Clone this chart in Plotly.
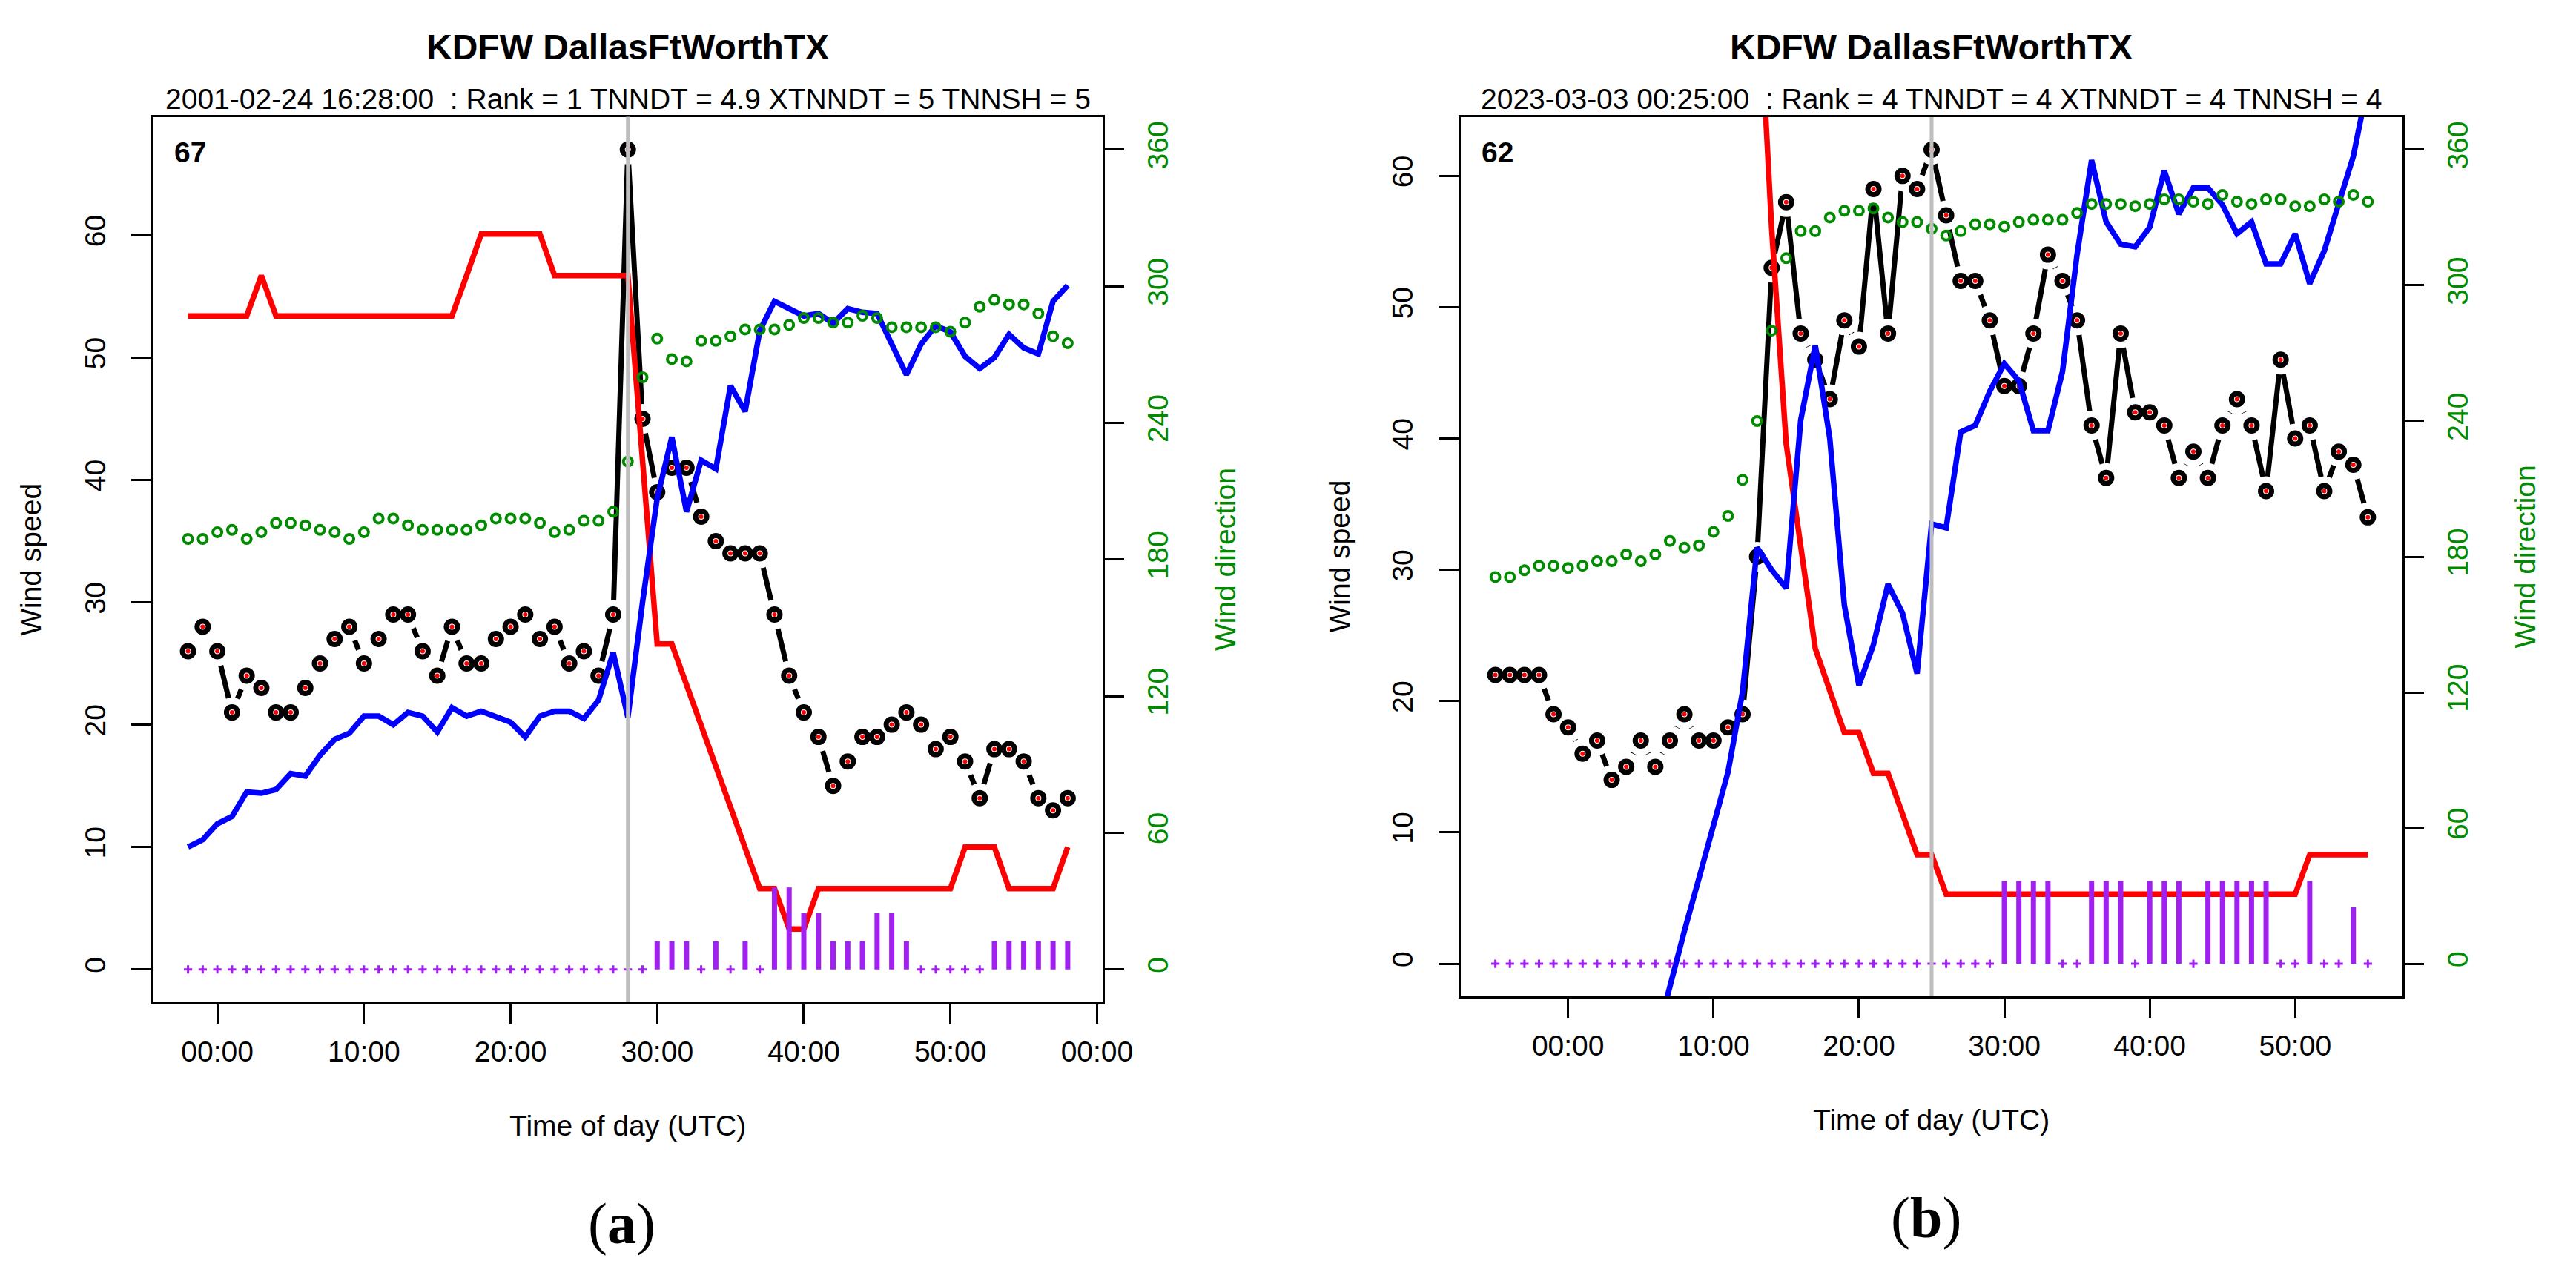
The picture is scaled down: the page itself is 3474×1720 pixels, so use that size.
import plotly.graph_objects as go
from plotly.subplots import make_subplots

# ---------------- data ----------------
# panel (a): KDFW 2001-02-24, one value per minute (minutes of the hour)
a_minutes = list(range(-2, 59))
a_speed = [26, 28, 26, 21, 24, 23, 21, 21, 23, 25, 27, 28, 25, 27, 29, 29, 26, 24, 28, 25,
           25, 27, 28, 29, 27, 28, 25, 26, 24, 29, 67, 45, 39, 41, 41, 37, 35, 34, 34, 34,
           29, 24, 21, 19, 15, 17, 19, 19, 20, 21, 20, 18, 19, 17, 14, 18, 18, 17, 14, 13, 14]
a_red = [53.4, 53.4, 53.4, 53.4, 53.4, 56.7, 53.4, 53.4, 53.4, 53.4,
         53.4, 53.4, 53.4, 53.4, 53.4, 53.4, 53.4, 53.4, 53.4, 56.7,
         60.1, 60.1, 60.1, 60.1, 60.1, 56.7, 56.7, 56.7, 56.7, 56.7,
         56.7, 41.6, 26.6, 26.6, 23.3, 20.0, 16.6, 13.3, 10.0, 6.6,
         6.6, 3.3, 3.3, 6.6, 6.6, 6.6, 6.6, 6.6, 6.6, 6.6,
         6.6, 6.6, 6.6, 10.0, 10.0, 10.0, 6.6, 6.6, 6.6, 6.6, 10.0]
a_blue = [10.0, 10.6, 11.9, 12.5, 14.5, 14.4, 14.7, 16.0, 15.8, 17.5,
          18.8, 19.3, 20.7, 20.7, 20.0, 21.0, 20.7, 19.4, 21.4, 20.7,
          21.1, 20.7, 20.2, 19.0, 20.7, 21.1, 21.1, 20.5, 22.0, 25.9,
          20.6, 30.0, 38.5, 43.5, 37.4, 41.6, 40.9, 47.7, 45.6, 52.2,
          54.6, 54.0, 53.4, 53.6, 52.8, 54.0, 53.7, 53.6, 51.2, 48.6,
          51.1, 52.6, 52.1, 50.1, 49.1, 50.0, 51.9, 50.8, 50.3, 54.6, 55.9]
a_dir = [189, 189, 192, 193, 189, 192, 196, 196, 195, 193,
         192, 189, 192, 198, 198, 195, 193, 193, 193, 193,
         195, 198, 198, 198, 196, 192, 193, 197, 197, 201,
         223, 260, 277, 268, 267, 276, 276, 278, 281, 281,
         281, 283, 286, 286, 284, 284, 287, 286, 282, 282,
         282, 282, 280, 284, 291, 294, 292, 292, 288, 278, 275]
a_purple = [0, 0, 0, 0, 0, 0, 0, 0, 0, 0, 0, 0, 0, 0, 0, 0, 0, 0, 0, 0,
            0, 0, 0, 0, 0, 0, 0, 0, 0, 0, 0, 0,
            2.3, 2.3, 2.3, 0, 2.3, 0, 2.3, 0, 6.7, 6.7, 4.6, 4.6, 2.3, 2.3, 2.3,
            4.6, 4.6, 2.3, 0, 0, 0, 0, 0, 2.3, 2.3, 2.3, 2.3, 2.3, 2.3]
a_event = 28
a_title = "KDFW DallasFtWorthTX"
a_subtitle = "2001-02-24 16:28:00\u00a0 : Rank = 1 TNNDT = 4.9 XTNNDT = 5 TNNSH = 5"
a_tickvals = [0, 10, 20, 30, 40, 50, 60]
a_ticktext = ["00:00", "10:00", "20:00", "30:00", "40:00", "50:00", "00:00"]

# panel (b): KDFW 2023-03-03
b_minutes = list(range(-5, 56))
b_speed = [22, 22, 22, 22, 19, 18, 16, 17, 14, 15,
           17, 15, 17, 19, 17, 17, 18, 19, 31, 53,
           58, 48, 46, 43, 49, 47, 59, 48, 60, 59,
           62, 57, 52, 52, 49, 44, 44, 48, 54, 52,
           49, 41, 37, 48, 42, 42, 41, 37, 39, 37,
           41, 43, 41, 36, 46, 40, 41, 36, 39, 38, 34]
b_red = [None, None, None, None, None, None, None, None, None, None,
         None, None, None, None, None, None, None, None, 77, 56,
         39.6, 31.8, 24.0, 20.8, 17.6, 17.6, 14.5, 14.5, 11.4, 8.3,
         8.3, 5.3, 5.3, 5.3, 5.3, 5.3, 5.3, 5.3, 5.3, 5.3,
         5.3, 5.3, 5.3, 5.3, 5.3, 5.3, 5.3, 5.3, 5.3, 5.3,
         5.3, 5.3, 5.3, 5.3, 5.3, 5.3, 8.3, 8.3, 8.3, 8.3, 8.3]
b_blue = [None, None, None, None, None, None, None, None, None, None,
          None, -6.0, -1.6, 2.5, 6.5, 10.7, 14.6, 20.7, 31.7, 30.0,
          28.6, 41.4, 47.1, 40.0, 27.3, 21.2, 24.3, 28.9, 26.7, 22.1,
          33.5, 33.2, 40.5, 41.0, 43.6, 45.7, 44.4, 40.6, 40.6, 45.1,
          54.0, 61.2, 56.5, 54.8, 54.6, 56.1, 60.4, 57.1, 59.1, 59.1,
          57.8, 55.6, 56.5, 53.3, 53.3, 55.6, 51.8, 54.3, 57.8, 61.5, 67.0]
b_dir = [171, 171, 174, 176, 176, 175, 176, 178, 178, 181,
         178, 181, 187, 184, 185, 191, 198, 214, 240, 280,
         312, 324, 324, 330, 333, 333, 334, 330, 328, 328,
         325, 322, 324, 327, 327, 326, 328, 329, 329, 329,
         332, 336, 336, 336, 335, 336, 338, 338, 337, 336,
         340, 337, 336, 338, 338, 335, 335, 338, 337, 340, 337]
b_purple = [0, 0, 0, 0, 0, 0, 0, 0, 0, 0, 0, 0, 0, 0, 0, 0, 0, 0, 0, 0,
            0, 0, 0, 0, 0, 0, 0, 0, 0, 0, 0, 0, 0, 0, 0,
            6.3, 6.3, 6.3, 6.3, 0, 0, 6.3, 6.3, 6.3, 0, 6.3, 6.3, 6.3, 0,
            6.3, 6.3, 6.3, 6.3, 6.3, 0, 0, 6.3, 0, 0, 4.3, 0]
b_event = 25
b_title = "KDFW DallasFtWorthTX"
b_subtitle = "2023-03-03 00:25:00\u00a0 : Rank = 4 TNNDT = 4 XTNNDT = 4 TNNSH = 4"
b_tickvals = [0, 10, 20, 30, 40, 50]
b_ticktext = ["00:00", "10:00", "20:00", "30:00", "40:00", "50:00"]

speed_ticks = [0, 10, 20, 30, 40, 50, 60]
dir_ticks = [0, 60, 120, 180, 240, 300, 360]

# ---------------- style ----------------
W, H = 3474, 1720
FONT = "Liberation Sans, Arial, sans-serif"
GREEN = "#008B00"
PURPLE = "#A020F0"
# plot frames in pixels: left, right, top, bottom
frames = [(200.5, 1497, 149.5, 1344), (1985, 3271, 150, 1336)]


def px(x):
    return x / W


def py(y):
    return 1 - y / H


def pad(lo, hi):
    d = (hi - lo) * 0.04
    return [lo - d, hi + d]


fig = make_subplots(rows=1, cols=2, specs=[[{"secondary_y": True}, {"secondary_y": True}]])

panels = [
    (a_minutes, a_speed, a_red, a_blue, a_dir, a_purple, a_event, a_title, a_subtitle,
     a_tickvals, a_ticktext, "(<b>a</b>)"),
    (b_minutes, b_speed, b_red, b_blue, b_dir, b_purple, b_event, b_title, b_subtitle,
     b_tickvals, b_ticktext, "(<b>b</b>)"),
]

for i, (mins, speed, red, blue, wdir, purple, event, title, subtitle,
        tickvals, ticktext, tag) in enumerate(panels):
    col = i + 1
    # wind speed line with gaps around the points (R type="b")
    fig.add_trace(go.Scatter(x=mins, y=speed, mode="lines",
                             line=dict(color="black", width=7)),
                  row=1, col=col, secondary_y=False)
    fig.add_trace(go.Scatter(x=mins, y=speed, mode="markers",
                             marker=dict(size=40, color="white", line=dict(width=0))),
                  row=1, col=col, secondary_y=False)
    fig.add_trace(go.Scatter(x=mins, y=speed, mode="markers",
                             marker=dict(size=15, color="white",
                                         line=dict(color="black", width=7))),
                  row=1, col=col, secondary_y=False)
    fig.add_trace(go.Scatter(x=mins, y=speed, mode="markers",
                             marker=dict(size=6, color="red", line=dict(width=0))),
                  row=1, col=col, secondary_y=False)
    # red and blue lines
    fig.add_trace(go.Scatter(x=mins, y=red, mode="lines",
                             line=dict(color="#FF0000", width=7.5)),
                  row=1, col=col, secondary_y=False)
    fig.add_trace(go.Scatter(x=mins, y=blue, mode="lines",
                             line=dict(color="#0000FF", width=7.5)),
                  row=1, col=col, secondary_y=False)
    # purple bars (type="h") and zero dots
    bx, by = [], []
    for m, v in zip(mins, purple):
        if v > 0:
            bx += [m, m, None]
            by += [0, v, None]
    fig.add_trace(go.Scatter(x=bx, y=by, mode="lines",
                             line=dict(color=PURPLE, width=7)),
                  row=1, col=col, secondary_y=False)
    zx = [m for m, v in zip(mins, purple) if v == 0]
    fig.add_trace(go.Scatter(x=zx, y=[0] * len(zx), mode="markers",
                             marker=dict(symbol="cross-thin", size=8, color=PURPLE,
                                         line=dict(width=3, color=PURPLE))),
                  row=1, col=col, secondary_y=False)
    # wind direction on the right axis
    fig.add_trace(go.Scatter(x=mins, y=wdir, mode="markers",
                             marker=dict(symbol="circle-open", size=12, color=GREEN,
                                         line=dict(width=4))),
                  row=1, col=col, secondary_y=True)
    # event time
    fig.add_vline(x=event, line_color="#BEBEBE", line_width=5, row=1, col=col)

    l, r, t, b = frames[i]
    xname = "xaxis" if i == 0 else "xaxis2"
    yl = "yaxis" if i == 0 else "yaxis3"
    yr = "yaxis2" if i == 0 else "yaxis4"
    axis_common = dict(showgrid=False, zeroline=False, showline=True, linecolor="black",
                       linewidth=2.5, ticks="outside", ticklen=26, tickwidth=3,
                       tickcolor="black")
    fig.update_layout(**{
        xname: dict(axis_common, domain=[px(l), px(r)], range=pad(min(mins), max(mins)),
                    tickvals=tickvals, ticktext=ticktext, mirror=True,
                    ticklabelstandoff=4,
                    tickfont=dict(family=FONT, size=39, color="black")),
        yl: dict(axis_common, domain=[py(b), py(t)], range=pad(0, max(speed)),
                 tickvals=speed_ticks, tickangle=-90, mirror=True,
                 ticklabelstandoff=20,
                 tickfont=dict(family=FONT, size=39, color="black")),
        yr: dict(axis_common, range=pad(0, 360), tickvals=dir_ticks, tickangle=-90,
                 ticklabelstandoff=12,
                 tickfont=dict(family=FONT, size=39, color=GREEN)),
    })

    cx = (l + r) / 2
    cy = (t + b) / 2
    ann = [
        dict(text="<b>%s</b>" % title, x=px(cx), y=py(55), size=48, color="black", angle=0),
        dict(text=subtitle, x=px(cx), y=py(126), size=39, color="black", angle=0),
        dict(text="Wind speed", x=px(l - 166), y=py(cy), size=39, color="black", angle=-90),
        dict(text="Wind direction", x=px(r + 167), y=py(cy), size=39, color=GREEN, angle=-90),
        dict(text="Time of day (UTC)", x=px(cx), y=py(b + 166), size=39, color="black", angle=0),
    ]
    for a in ann:
        fig.add_annotation(text=a["text"], x=a["x"], y=a["y"], xref="paper", yref="paper",
                           showarrow=False, xanchor="center", yanchor="middle",
                           textangle=a["angle"],
                           font=dict(family=FONT, size=a["size"], color=a["color"]))
    # peak value in the top-left corner
    fig.add_annotation(text="<b>%d</b>" % max(speed), x=px(l + 27), y=py(198),
                       xref="paper", yref="paper", showarrow=False,
                       xanchor="left", yanchor="middle",
                       font=dict(family=FONT, size=39, color="black"))
    # panel tag
    fig.add_annotation(text=tag, x=px(cx - 8), y=py(b + 298), xref="paper", yref="paper",
                       showarrow=False, xanchor="center", yanchor="middle",
                       font=dict(family="Liberation Serif, DejaVu Serif, serif", size=78,
                                 color="black"))

fig.update_layout(width=W, height=H, margin=dict(l=0, r=0, t=0, b=0),
                  paper_bgcolor="white", plot_bgcolor="white", showlegend=False)

fig.write_html("out.html")
